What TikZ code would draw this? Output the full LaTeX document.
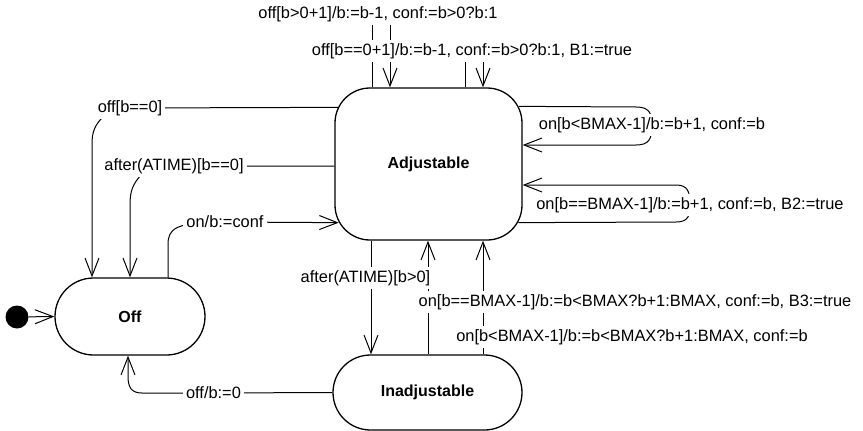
\documentclass[tikz,border=0pt]{standalone}
\usepackage{fontspec}
\setmainfont{Liberation Sans}
\usetikzlibrary{arrows.meta,calc}
\pgfdeclarelayer{wires}
\pgfsetlayers{wires,main}
\begin{document}
\begin{tikzpicture}[x=1pt,y=-1pt,
  state/.style={draw, line width=1.3pt, fill=white, inner sep=0pt,
    font=\fontsize{16}{19}\selectfont\bfseries},
  trans/.style={fill=white, inner sep=3pt, font=\fontsize{16.4}{19}\selectfont},
  wire/.style={line width=1pt},
  arr/.style={wire, -{Straight Barb[length=18pt,width=14pt]}},
]
\useasboundingbox (0,0) rectangle (863,431);

% states
\node[state, minimum width=187pt, minimum height=152pt, rounded corners=35pt] (adj) at (428.5,164) {Adjustable};
\node[state, minimum width=150pt, minimum height=77pt, rounded corners=38.5pt] (off) at (130,316.5) {Off};
\node[state, minimum width=189pt, minimum height=75pt, rounded corners=37.5pt] (inadj) at (427.5,392.5) {Inadjustable};
\node[circle, fill=black, minimum size=23pt, inner sep=0pt] (init) at (17,317) {};

% transition labels
\node[trans] (tDec)   at (378,14)    {off[b>0+1]/b:=b-1, conf:=b>0?b:1};
\node[trans] (tDecB)  at (472,51)    {off[b==0+1]/b:=b-1, conf:=b>0?b:1, B1:=true};
\node[trans] (tOff)   at (130,108)   {off[b==0]};
\node[trans] (tTime0) at (174,166)   {after(ATIME)[b==0]};
\node[trans] (tOn)    at (225,222)   {on/b:=conf};
\node[trans] (tInc)   at (652,125)   {on[b<BMAX-1]/b:=b+1, conf:=b};
\node[trans] (tIncB)  at (690,205)   {on[b==BMAX-1]/b:=b+1, conf:=b, B2:=true};
\node[trans] (tTime)  at (365.5,278) {after(ATIME)[b>0]};
\node[trans] (tSatB)  at (635,302)   {on[b==BMAX-1]/b:=b<BMAX?b+1:BMAX, conf:=b, B3:=true};
\node[trans] (tSat)   at (632,337)   {on[b<BMAX-1]/b:=b<BMAX?b+1:BMAX, conf:=b};
\node[trans] (tOffI)  at (213.5,393) {off/b:=0};

% transitions, drawn beneath the labels
\begin{pgfonlayer}{wires}
\draw[arr] (init) -- (off.west);
% self loops on top
\draw[arr] (adj.north -| 372,0) -- (tDec.center -| 372,0) -- (tDec.center -| 390,0) -- (adj.north -| 390,0);
\draw[arr] (adj.north -| 465,0) -- (tDecB.center -| 465,0) -- (tDecB.center -| 483,0) -- (adj.north -| 483,0);
% self loops on the right
\draw[arr] ($(adj.north east)+(-3.9,19)$) -- (636,107)
  .. controls (649,107) and (652,113) .. (tInc.center)
  .. controls (652,139) and (649,145) .. (636,145) -- (adj.east |- 0,145);
\draw[arr] ($(adj.south east)+(-4.4,-18)$) -- (676,222)
  .. controls (688,222) and (690,216) .. (tIncB.center)
  .. controls (690,192) and (688,185) .. (676,185) -- (adj.east |- 0,185);
% Adjustable -> Off
\draw[arr] ($(adj.north west)+(3.4,20)$) -- (tOff.center) -- (106,114)
  .. controls (94,125) and (92,132) .. (92,145) -- (off.north -| 92,0);
\draw[arr] (adj.west |- 0,166) -- (tTime0.center) -- (143,173)
  .. controls (132,184) and (130,192) .. (130,205) -- (off.north -| 130,0);
% Off -> Adjustable
\draw[arr] (off.north -| 168,0) -- (168,245)
  .. controls (168,229) and (174,222) .. (tOn.center) -- ($(adj.south west)+(4.4,-18)$);
% Adjustable <-> Inadjustable
\draw[arr] (adj.south -| 371,0) -- (inadj.north -| 371,0);
\draw[arr] (inadj.north -| 428,0) -- (adj.south -| 428,0);
\draw[arr] (inadj.north -| 483,0) -- (adj.south -| 483,0);
% Inadjustable -> Off
\draw[arr] (inadj.west) -- (tOffI.center) -- (142,393)
  .. controls (131,393) and (128,387) .. (128,376) -- (off.south -| 128,0);
\end{pgfonlayer}
\end{tikzpicture}
\end{document}
